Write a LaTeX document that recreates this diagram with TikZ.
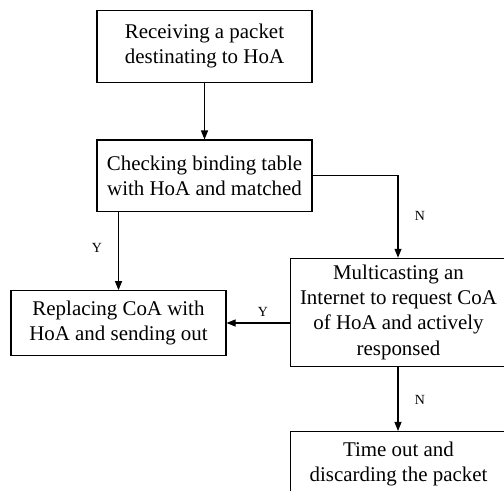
\documentclass[tikz,border=0pt]{standalone}
\usepackage{fontspec}
\setmainfont{Liberation Serif}
\usetikzlibrary{arrows.meta}
\begin{document}
\begin{tikzpicture}[x=1bp,y=-1bp,
  box/.style={draw,line width=1.1bp,align=center,inner sep=0pt,
    font=\fontsize{21}{25.3}\selectfont,anchor=center},
  conn/.style={line width=1.1bp,-{Triangle[length=9bp,width=7bp]}},
  lbl/.style={font=\fontsize{14}{16}\selectfont,inner sep=0pt}]
\useasboundingbox (0,0) rectangle (504,491);
\begin{scope}
\clip (0,0) rectangle (504,491);
\node[box,minimum width=215bp,minimum height=72bp] (b1) at (204.5,46.3) {Receiving a packet\\destinating to HoA};
\node[box,minimum width=215bp,minimum height=71.5bp] (b2) at (204.5,175.8) {Checking binding table\\with HoA and matched};
\node[box,minimum width=215bp,minimum height=64.6bp] (b4) at (118.5,323) {Replacing CoA with\\HoA and sending out};
\node[box,minimum width=216bp,minimum height=108bp] (b3) at (398.5,312.3) {Multicasting an\\Internet to request CoA\\of HoA and actively\\responsed};
\node[box,minimum width=216bp,minimum height=65bp] (b5) at (398.5,464) {Time out and\\discarding the packet};
\end{scope}
\coordinate (r1) at (398,175.8);
\draw[conn] (b1.south) -- (b2.north);
\draw[conn] (b2.east) -- (r1) -- (r1 |- b3.north);
\draw[conn] (b2.south -| b4.north) -- (b4.north);
\draw[conn] (b3.west |- b4.east) -- (b4.east);
\draw[conn] (r1 |- b3.south) -- (r1 |- b5.north);
\node[lbl] (n1) at (420,216) {N};
\node[lbl] (y1) at (97,247.5) {Y};
\node[lbl] (y2) at (263,312) {Y};
\node[lbl] (n2) at (420,399.5) {N};
\end{tikzpicture}
\end{document}
